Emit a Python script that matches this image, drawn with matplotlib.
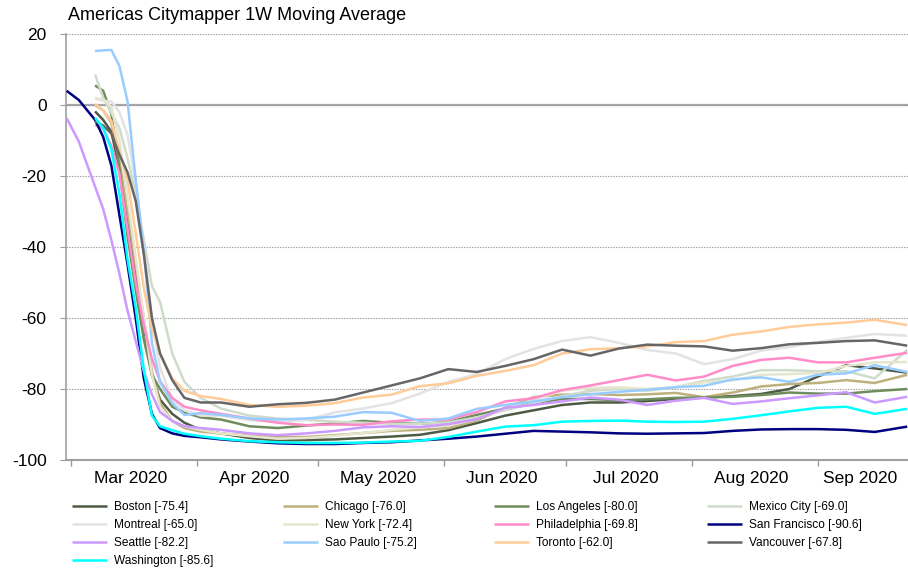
import numpy as np
import matplotlib
matplotlib.use("Agg")
import matplotlib.pyplot as plt
import matplotlib.dates as mdates
from matplotlib.ticker import FixedLocator, NullFormatter, FixedFormatter
from datetime import datetime

plt.rcParams['font.family'] = ['Liberation Sans', 'DejaVu Sans']

nan = np.nan

# ---------------- data ----------------
dates = ["2020-02-29", "2020-03-03", "2020-03-07", "2020-03-09", "2020-03-11",
         "2020-03-13", "2020-03-15", "2020-03-17", "2020-03-19", "2020-03-21",
         "2020-03-23", "2020-03-26", "2020-03-29", "2020-04-02", "2020-04-07",
         "2020-04-14", "2020-04-21", "2020-04-28", "2020-05-05", "2020-05-12",
         "2020-05-19", "2020-05-26", "2020-06-02", "2020-06-09", "2020-06-16",
         "2020-06-23", "2020-06-30", "2020-07-07", "2020-07-14", "2020-07-21",
         "2020-07-28", "2020-08-04", "2020-08-11", "2020-08-18", "2020-08-25",
         "2020-09-01", "2020-09-08", "2020-09-15", "2020-09-23"]

cities = ["Boston", "Chicago", "Los Angeles", "Mexico City", "Montreal", "New York",
          "Philadelphia", "San Francisco", "Seattle", "Sao Paulo", "Toronto",
          "Vancouver", "Washington"]

boston = [nan, nan, -1.8, -4.2, -7.5, -18.0, -32.0, -47.0, -62.0, -76.0, -83.0, -87.0, -89.5,
          -91.5, -92.5, -93.8, -94.5, -94.4, -94.2, -93.8, -93.4, -92.9, -91.6, -89.6, -87.5,
          -86.0, -84.5, -83.8, -83.8, -83.4, -82.8, -82.4, -82.0, -81.4, -80.0, -76.5, -73.3,
          -74.2, -75.4]
chicago = [nan, nan, 0.0, -1.5, -5.0, -16.0, -30.0, -45.0, -60.0, -75.0, -84.0, -89.0, -91.0,
           -92.0, -92.5, -93.1, -93.5, -93.5, -93.0, -92.4, -91.8, -91.5, -91.0, -88.9, -85.3,
           -82.3, -81.6, -81.4, -81.7, -81.5, -81.1, -82.3, -81.0, -79.3, -78.6, -78.3, -77.5,
           -78.3, -76.0]
los_angeles = [nan, nan, 5.5, 4.0, -2.5, -18.0, -37.0, -52.0, -66.0, -76.0, -80.0, -85.0, -86.6,
               -88.0, -88.6, -90.5, -91.0, -90.3, -89.7, -89.0, -89.5, -89.8, -89.3, -87.3, -85.5,
               -84.0, -82.8, -82.8, -83.2, -82.9, -82.5, -82.4, -82.2, -81.7, -81.0, -81.3, -81.3,
               -80.6, -80.0]
mexico_city = [nan, nan, 8.6, 2.0, -2.2, -6.5, -15.0, -25.0, -38.0, -51.0, -55.5, -70.0, -78.0,
               -82.5, -85.5, -87.5, -88.3, -88.7, -89.2, -89.5, -89.8, -89.8, -89.4, -88.0, -86.0,
               -84.0, -82.0, -80.5, -80.0, -80.5, -79.5, -77.7, -76.5, -74.7, -74.7, -75.0, -75.0,
               -77.0, -69.0]
montreal = [nan, nan, 1.7, 1.2, 1.0, -2.0, -8.5, -22.0, -40.0, -60.0, -74.0, -83.0, -86.0,
            -87.5, -87.5, -88.8, -89.3, -88.7, -86.6, -85.5, -84.0, -81.3, -78.0, -75.8, -71.6,
            -68.7, -66.5, -65.4, -67.0, -69.0, -70.0, -73.0, -71.6, -69.2, -68.2, -66.8, -65.6,
            -64.5, -65.0]
new_york = [nan, nan, 2.0, 1.5, -0.5, -10.0, -26.0, -43.0, -60.0, -76.0, -85.0, -89.0, -90.5,
            -91.5, -92.5, -93.3, -94.0, -93.8, -93.2, -92.4, -91.5, -90.8, -90.3, -88.5, -85.5,
            -83.0, -80.5, -79.7, -79.5, -80.0, -79.5, -78.1, -77.6, -76.0, -75.8, -75.5, -73.5,
            -72.5, -72.4]
philadelphia = [nan, nan, -5.6, -6.7, -11.5, -19.5, -35.0, -50.0, -62.0, -71.5, -77.8, -82.5, -85.0,
                -86.0, -87.0, -88.3, -89.5, -90.2, -90.0, -90.1, -89.1, -88.6, -88.6, -86.5, -83.5,
                -82.6, -80.3, -79.0, -77.5, -76.0, -77.6, -76.5, -73.5, -71.8, -71.2, -72.5, -72.5,
                -71.2, -69.8]
san_francisco = [4.0, 1.4, -4.2, -9.0, -17.0, -31.0, -45.0, -60.0, -77.0, -87.0, -91.0, -92.5, -93.2,
                 -93.6, -94.2, -94.8, -95.3, -95.5, -95.5, -95.2, -95.0, -94.5, -94.0, -93.4, -92.6,
                 -91.8, -92.0, -92.2, -92.5, -92.6, -92.5, -92.4, -91.8, -91.4, -91.3, -91.3, -91.5,
                 -92.1, -90.6]
seattle = [-3.7, -10.3, -23.0, -29.3, -38.0, -47.5, -58.0, -66.5, -75.0, -81.5, -86.5, -89.0, -90.5,
           -91.0, -91.5, -92.5, -93.0, -92.5, -91.8, -90.8, -90.5, -90.7, -89.9, -88.5, -85.3,
           -84.5, -83.5, -82.4, -83.0, -84.5, -83.3, -82.5, -84.2, -83.5, -82.6, -81.8, -80.9,
           -83.8, -82.2]
sao_paulo = [nan, nan, 15.2, 15.4, 15.5, 11.0, 1.0, -21.0, -41.0, -67.0, -78.0, -84.0, -87.3,
             -86.8, -87.3, -88.3, -88.6, -88.3, -87.8, -86.5, -86.7, -89.0, -88.3, -85.6, -84.5,
             -83.5, -82.3, -81.5, -80.8, -80.2, -79.5, -79.1, -77.3, -76.7, -78.0, -76.0, -75.6,
             -73.3, -75.2]
toronto = [nan, nan, 0.3, -1.5, -4.5, -13.0, -21.0, -36.0, -51.5, -63.0, -70.0, -77.0, -80.5,
           -82.0, -82.8, -84.5, -85.0, -84.7, -84.0, -82.4, -81.6, -79.2, -78.4, -76.3, -74.9,
           -73.3, -70.0, -68.8, -68.5, -68.0, -66.8, -66.5, -64.7, -63.8, -62.5, -61.8, -61.3,
           -60.5, -62.0]
vancouver = [nan, nan, -4.6, -5.8, -8.0, -14.0, -19.0, -27.0, -42.0, -60.0, -70.0, -77.5, -82.5,
             -83.8, -83.8, -85.0, -84.3, -83.9, -83.0, -81.0, -79.0, -77.0, -74.4, -75.2, -73.5,
             -71.6, -68.9, -70.6, -68.6, -67.5, -67.8, -68.0, -69.2, -68.5, -67.4, -67.0, -66.5,
             -66.3, -67.8]
washington = [nan, nan, -3.6, -6.5, -12.5, -25.0, -43.5, -57.0, -74.5, -87.5, -90.5, -91.6, -92.6,
              -93.3, -94.0, -94.7, -95.0, -95.2, -95.2, -95.1, -94.8, -94.6, -93.5, -92.0, -90.6,
              -90.2, -89.2, -89.0, -88.9, -89.2, -89.3, -89.2, -88.4, -87.4, -86.3, -85.3, -85.0,
              -87.0, -85.6]

colors = ["#4e5b44", "#bdb07c", "#6e8c5c", "#cfdccb", "#e3e3e3", "#e6e6cf",
          "#ff8cc8", "#000080", "#cc99ff", "#99ccff", "#ffcc99", "#666666", "#00ffff"]

series_values = [boston, chicago, los_angeles, mexico_city, montreal, new_york,
                 philadelphia, san_francisco, seattle, sao_paulo, toronto, vancouver, washington]

y_ticks = [20, 0, -20, -40, -60, -80, -100]
month_labels = ["Mar 2020", "Apr 2020", "May 2020", "Jun 2020", "Jul 2020", "Aug 2020", "Sep 2020"]
title = "Americas Citymapper 1W Moving Average"

# ---------------- figure ----------------
W, H = 908, 576
fig = plt.figure(figsize=(W / 100, H / 100), dpi=100)
ax = fig.add_axes([66 / W, 1 - 460 / H, 1 - 66 / W, 426 / H])

dts = [datetime.strptime(d, "%Y-%m-%d") for d in dates]
lines = []
for name, vals, col in zip(cities, series_values, colors):
    (ln,) = ax.plot(dts, np.array(vals, dtype=float), color=col, lw=1.8,
                    solid_joinstyle='round', solid_capstyle='butt',
                    label=f"{name} [{vals[-1]:.1f}]", zorder=3)
    lines.append(ln)

# axes limits
start = mdates.date2num(datetime(2020, 3, 1))
xmin, xmax = start - 1.16, start + 206.2
ax.set_xlim(xmin, xmax)
ax.set_ylim(-100, 20)

# y axis
ax.set_yticks(y_ticks)
ax.set_yticklabels([str(v) for v in y_ticks])
ax.yaxis.grid(True, linestyle=(0, (1.2, 1.2)), color='#9a9a9a', lw=0.8, zorder=1)
ax.axhline(0, color='#a8a8a8', lw=1.6, zorder=1.5)
ax.tick_params(axis='y', length=4.5, width=0.8, color='#9a9a9a', pad=9.5,
               labelsize=12.5, labelcolor='black')

# x axis: month boundaries as major ticks, labels centred in each month
bounds = [mdates.date2num(datetime(2020, m, 1)) for m in range(3, 10)]
edges = bounds + [xmax]
mids = [(edges[i] + edges[i + 1]) / 2 - 0.8 for i in range(len(bounds))]
ax.xaxis.set_major_locator(FixedLocator(bounds))
ax.xaxis.set_major_formatter(NullFormatter())
ax.xaxis.set_minor_locator(FixedLocator(mids))
ax.xaxis.set_minor_formatter(FixedFormatter(month_labels))
ax.tick_params(axis='x', which='major', length=4, width=1, color='#9a9a9a')
ax.tick_params(axis='x', which='minor', length=0, pad=8, labelsize=12.5, labelcolor='black')

for s in ['top', 'right']:
    ax.spines[s].set_visible(False)
ax.spines['left'].set_color('#a0a0a0')
ax.spines['left'].set_linewidth(1.2)
ax.spines['bottom'].set_color('#a0a0a0')
ax.spines['bottom'].set_linewidth(1.5)

# title
fig.text(68 / W, 1 - 20.5 / H, title, fontsize=13, ha='left', va='baseline')

# legend: 4 fixed-width columns, filled row by row
col_x = [72, 283, 494, 707]
ncol = 4
for c in range(ncol):
    idx = list(range(c, len(lines), ncol))
    fig.legend([lines[i] for i in idx], [lines[i].get_label() for i in idx],
               loc='upper left', bbox_to_anchor=(col_x[c] / W, 1 - 501 / H),
               bbox_transform=fig.transFigure, frameon=False, borderpad=0,
               borderaxespad=0, handlelength=2.9, handletextpad=0.6,
               labelspacing=0.5, fontsize=8.6)

fig.savefig("out.png", dpi=100)
